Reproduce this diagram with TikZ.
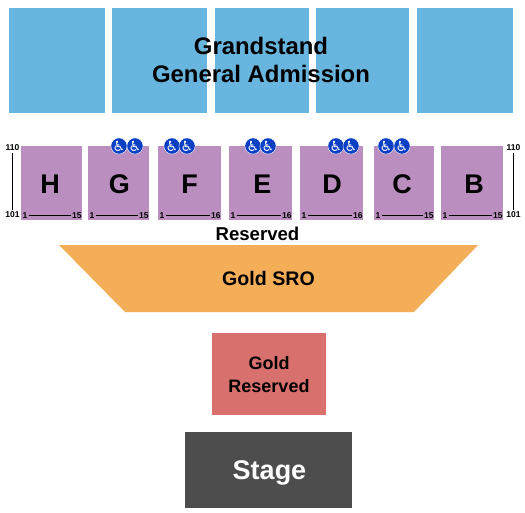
\documentclass[tikz,border=0pt]{standalone}
\usepackage{fontspec}
\setmainfont{Liberation Sans}
\newfontfamily\symfont{DejaVu Sans}
\definecolor{gsblue}{HTML}{68B6DF}
\definecolor{secpurple}{HTML}{BA8FC0}
\definecolor{goldsro}{HTML}{F5AE58}
\definecolor{goldres}{HTML}{D8706E}
\definecolor{stagegray}{HTML}{4D4D4D}
\definecolor{adablue}{HTML}{0B3FC4}
\tikzset{
  px/.style={x=1pt,y=-1pt},
  box/.style={draw=none,inner sep=0pt,outer sep=0pt,anchor=north west},
  seclabel/.style={font=\bfseries\fontsize{27}{27}\selectfont,inner sep=0pt},
  tiny/.style={font=\bfseries\fontsize{8.5}{9}\selectfont,inner sep=0pt},
  ruleline/.style={draw=black,line width=1pt,shorten >=1pt,shorten <=1pt},
  vrule/.style={draw=black,line width=1pt,shorten >=1.5pt,shorten <=1.5pt},
  ada/.style={circle,fill=adablue,draw=white,line width=0.4pt,minimum size=15pt,inner sep=0pt,text=white,font=\symfont\fontsize{14}{14}\selectfont},
}
% name, x0, x1, letter x shift, last seat
\newcommand{\secbox}[5]{%
  \node[box,fill=secpurple,minimum width=#3pt-#2pt,minimum height=74pt] (sec#1) at (#2,146) {};
  \node[seclabel] at ([xshift=#4pt,yshift=-1pt]sec#1.center) {#1};
  \node[tiny,anchor=west] (a#1) at (#2+1.5,216) {1};
  \node[tiny,anchor=east] (b#1) at (#3-0.2,216) {#5};
  \draw[ruleline] ([yshift=0.6pt]a#1.east) -- ([yshift=0.6pt]b#1.west);
}
\newcommand{\gsbox}[3]{%
  \node[box,fill=gsblue,minimum width=#3pt-#2pt,minimum height=105pt] (gs#1) at (#2,8) {};
}
\newcommand{\adaicon}[2]{\node[ada] (ada#1) at (#2,146) {♿};}
\begin{document}
\begin{tikzpicture}[px]
\useasboundingbox (0,0) rectangle (525,512);
\gsbox{a}{9}{105}
\gsbox{b}{112}{207}
\gsbox{c}{215}{309}
\gsbox{d}{316}{409}
\gsbox{e}{417}{513}
\node[font=\bfseries\fontsize{23.9}{28.5}\selectfont,align=center,inner sep=0pt] (gstext) at (261,60) {Grandstand\\General Admission};
\secbox{H}{21}{82}{-1.5}{15}
\secbox{G}{88}{149}{1}{15}
\secbox{F}{158}{221}{0}{16}
\secbox{E}{229}{292}{2}{16}
\secbox{D}{300}{363}{0.5}{16}
\secbox{C}{374}{434}{-2}{15}
\secbox{B}{441}{503}{2}{15}
\adaicon{g1}{119}\adaicon{g2}{135}
\adaicon{f1}{172}\adaicon{f2}{187}
\adaicon{e1}{253}\adaicon{e2}{268}
\adaicon{d1}{336}\adaicon{d2}{351}
\adaicon{c1}{386}\adaicon{c2}{402}
\node[tiny] (lt) at (12.5,148) {110};
\node[tiny] (lb) at (12.5,215) {101};
\draw[vrule] (lt.south) -- (lb.north);
\node[tiny] (rt) at (513.5,148) {110};
\node[tiny] (rb) at (513.5,215) {101};
\draw[vrule] (rt.south) -- (rb.north);
\node[font=\bfseries\fontsize{18.6}{18.6}\selectfont,inner sep=0pt] (res) at (257.5,234) {Reserved};
\fill[goldsro] (59,245) -- (478,245) -- (414,312) -- (125,312) -- cycle;
\node[font=\bfseries\fontsize{19.6}{19.6}\selectfont,inner sep=0pt] (sro) at (268.5,278) {Gold SRO};
\node[box,fill=goldres,minimum width=114pt,minimum height=82pt] (gr) at (212,333) {};
\node[font=\bfseries\fontsize{18}{23}\selectfont,align=center,inner sep=0pt] at (269,374.5) {Gold\\Reserved};
\node[box,fill=stagegray,minimum width=167pt,minimum height=76pt] (stage) at (185,432) {};
\node[font=\bfseries\fontsize{27}{27}\selectfont,text=white,inner sep=0pt] at (269.5,473) {Stage};
\end{tikzpicture}
\end{document}
